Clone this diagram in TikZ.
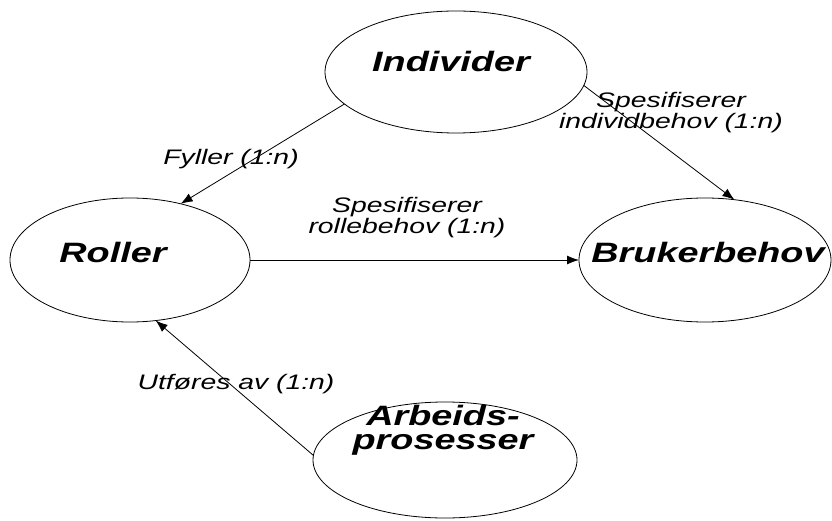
\documentclass[tikz,border=0pt]{standalone}
\usepackage{fontspec}
\usetikzlibrary{shapes.geometric,arrows.meta}
% wide Arial-like face for all labels
\newfontfamily\widesans[FakeStretch=1.35]{Liberation Sans}
\tikzset{
  entity/.style={draw, ellipse, line width=0.8pt, inner sep=0pt, outer sep=0pt},
  entitytext/.style={anchor=base, inner sep=0pt,
    font=\widesans\bfseries\itshape\fontsize{28}{24}\selectfont, align=center},
  reltext/.style={anchor=base, inner sep=0pt,
    font=\widesans\itshape\fontsize{21}{21}\selectfont, align=center},
  rel/.style={draw, line width=0.8pt, -{Latex[length=12pt,width=9pt]}},
}
\begin{document}
\begin{tikzpicture}[x=1pt,y=1pt]
\useasboundingbox[fill=white] (0,0) rectangle (832,520);

% entities
\node[entity, minimum width=262pt, minimum height=122pt] (ind) at (456,448) {};
\node[entity, minimum width=240pt, minimum height=124pt] (rol) at (130,260) {};
\node[entity, minimum width=252pt, minimum height=124pt] (bru) at (705,260) {};
\node[entity, minimum width=264pt, minimum height=116pt] (arb) at (445,60) {};

\node[entitytext] (tind) at (451,448) {Individer};
\node[entitytext] (trol) at (113,258) {Roller};
\node[entitytext] (tbru) at (708,258) {Brukerbehov};
\node[entitytext] (tarb) at (443,71) {Arbeids-\\prosesser};

% relations
\draw[rel] (ind.196) -- (rol.48);
\draw[rel] (ind.-6) -- (bru.64);
\draw[rel] (rol.0) -- (bru.180);
\draw[rel] (arb.178) -- (rol.-67);

\node[reltext] (lfyl) at (231,355) {Fyller (1:n)};
\node[reltext] (lind) at (671,391) {Spesifiserer\\individbehov (1:n)};
\node[reltext] (lrol) at (407,287) {Spesifiserer\\rollebehov (1:n)};
\node[reltext] (lutf) at (236,131) {Utføres av (1:n)};
\end{tikzpicture}
\end{document}
